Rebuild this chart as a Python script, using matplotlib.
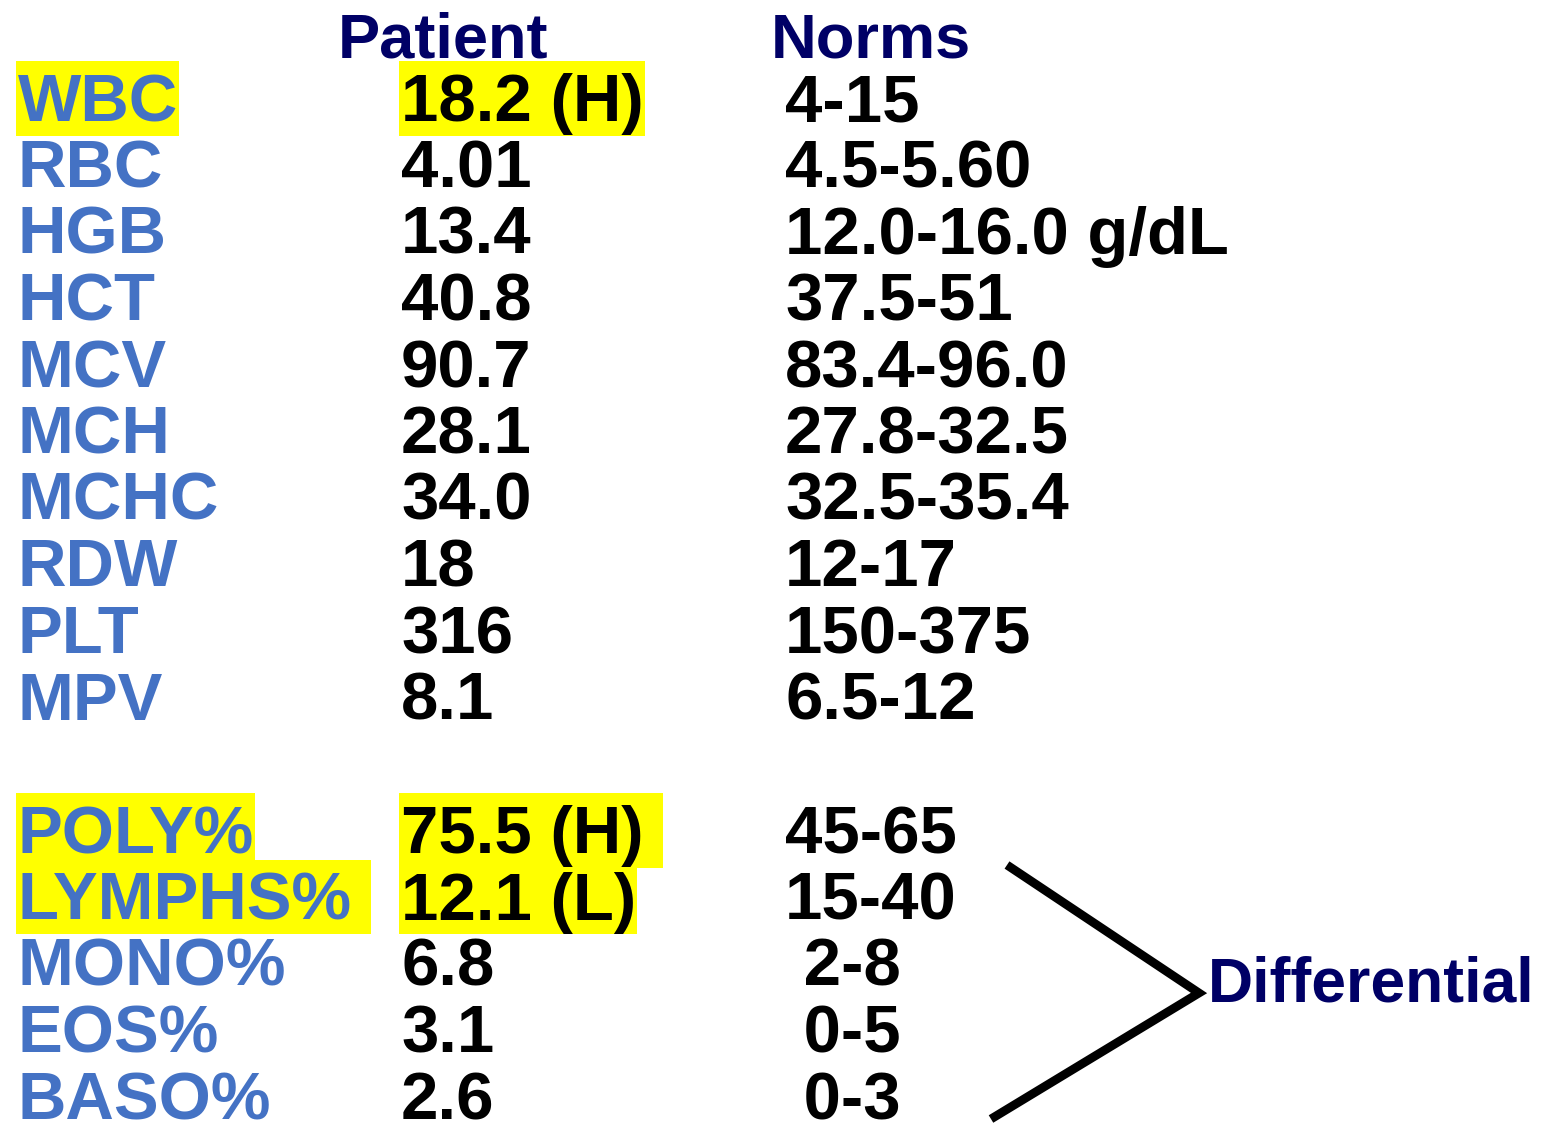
import matplotlib
matplotlib.use("Agg")
import matplotlib.pyplot as plt
from matplotlib.patches import Rectangle

plt.rcParams['font.family'] = ['Liberation Sans', 'DejaVu Sans']

# ---- data ----
tests = ["WBC", "RBC", "HGB", "HCT", "MCV", "MCH", "MCHC", "RDW", "PLT", "MPV"]
patient = ["18.2 (H)", "4.01", "13.4", "40.8", "90.7", "28.1", "34.0", "18", "316", "8.1"]
norms = ["4-15", "4.5-5.60", "12.0-16.0 g/dL", "37.5-51", "83.4-96.0", "27.8-32.5",
         "32.5-35.4", "12-17", "150-375", "6.5-12"]
flag_label = [True] + [False] * 9
flag_value = [True] + [False] * 9

diff_tests = ["POLY%", "LYMPHS% ", "MONO%", "EOS%", "BASO%"]
diff_patient = ["75.5 (H) ", "12.1 (L)", "6.8", "3.1", "2.6"]
diff_norms = ["45-65", "15-40", " 2-8", " 0-5", " 0-3"]
diff_flag_label = [True, True, False, False, False]
diff_flag_value = [True, True, False, False, False]

headers = ["Patient", "Norms"]
bracket_label = "Differential"

# ---- layout ----
W, H = 1545, 1124
fig = plt.figure(figsize=(W / 100, H / 100), dpi=100)
ax = fig.add_axes([0, 0, 1, 1])
ax.set_xlim(0, W)
ax.set_ylim(H, 0)
ax.axis('off')

BLUE = '#4472C4'
NAVY = '#000066'
YELLOW = '#FFFF00'
FS = 48.3
fpx = 49 * 100 / 72

x_label, x_val, x_norm = 18, 401, 785
row_h = 66.5
y0 = 121
y_diff0 = 853

# headers
ax.text(338, 57, headers[0], fontsize=45.5, fontweight='bold', color=NAVY, va='baseline')
ax.text(771, 57, headers[1], fontsize=45.5, fontweight='bold', color=NAVY, va='baseline')

rows = []
for i in range(len(tests)):
    rows.append((y0 + i * row_h, tests[i], patient[i], norms[i], flag_label[i], flag_value[i]))
for i in range(len(diff_tests)):
    rows.append((y_diff0 + i * row_h, diff_tests[i], diff_patient[i], diff_norms[i],
                 diff_flag_label[i], diff_flag_value[i]))

texts = []
for y, lab, val, nrm, fl, fv in rows:
    t1 = ax.text(x_label, y, lab, fontsize=FS, fontweight='bold', color=BLUE, va='baseline', zorder=3)
    t2 = ax.text(x_val, y, val, fontsize=FS, fontweight='bold', color='black', va='baseline', zorder=3)
    ax.text(x_norm, y, nrm, fontsize=FS, fontweight='bold', color='black', va='baseline', zorder=3)
    texts.append((y, t1, fl))
    texts.append((y, t2, fv))

fig.canvas.draw()
renderer = fig.canvas.get_renderer()
inv = ax.transData.inverted()
for y, t, flag in texts:
    if not flag:
        continue
    bb = t.get_window_extent(renderer)
    (xa, _), (xb, _) = inv.transform([[bb.x0, bb.y0], [bb.x1, bb.y1]])
    top = y - 0.875 * fpx
    bot = y + 0.22 * fpx
    ax.add_patch(Rectangle((xa - 2, top), (xb - xa) + 3, bot - top,
                           facecolor=YELLOW, edgecolor='none', zorder=1))

# bracket
ax.plot([1007, 1199, 991], [865, 993, 1119], color='black', lw=6.3,
        solid_joinstyle='miter', solid_capstyle='butt', zorder=2)
ax.text(1208, 1001, bracket_label, fontsize=45, fontweight='bold', color=NAVY, va='baseline')

fig.savefig('out.png', dpi=100, facecolor='white')
